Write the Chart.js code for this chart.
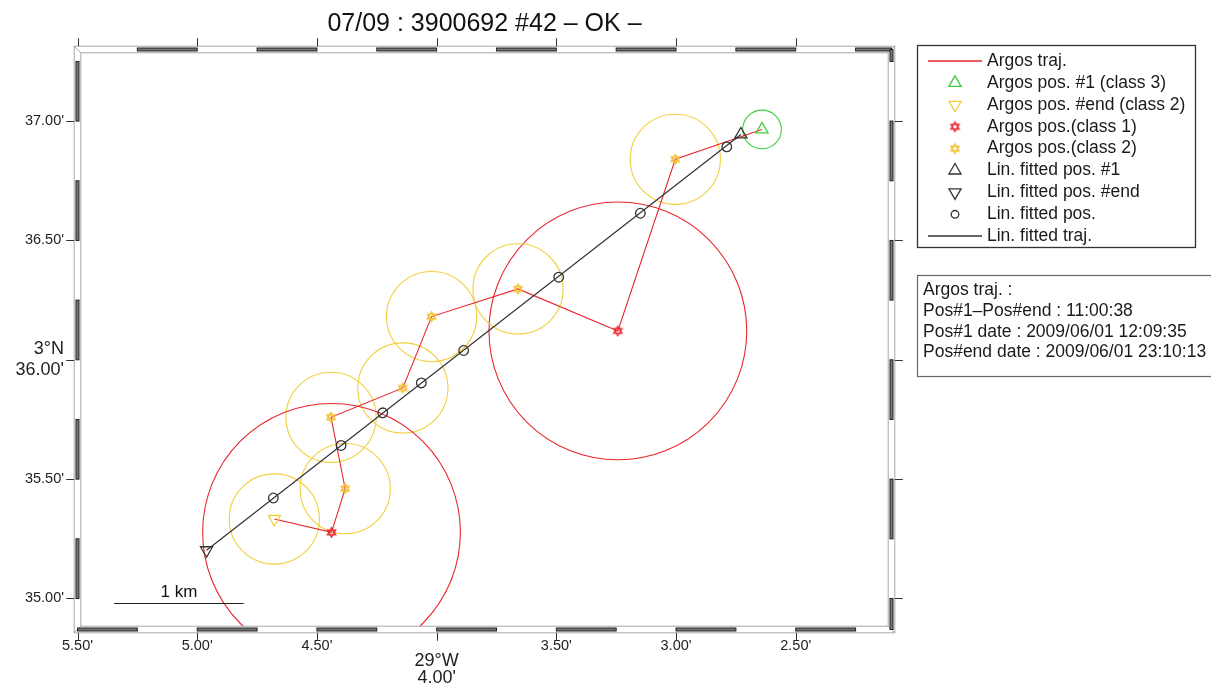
<!DOCTYPE html>
<html>
<head>
<meta charset="utf-8">
<script src="https://cdn.jsdelivr.net/npm/chart.js@4.4.1/dist/chart.umd.min.js"></script>
<style>
  html, body { margin: 0; padding: 0; background: #fff; }
  #wrap { width: 1211px; height: 684px; position: relative; }
</style>
</head>
<body>
<div id="wrap"><canvas id="trackChart"></canvas></div>
<script>
// Argos positions (minutes past 29°W / past 3°N), in time order
const argosLon = [2.641, 3.003, 3.243, 3.660, 4.021, 4.141, 4.441, 4.382, 4.439, 4.678];
const argosLat = [36.965, 36.840, 36.121, 36.297, 36.181, 35.882, 35.759, 35.460, 35.277, 35.333];
const argosClass = [3, 2, 1, 2, 2, 2, 2, 2, 1, 2];
// error radius in km for class 1, 2, 3
const classRadiusKm = [1.0, 0.35, 0.15];

// linearly fitted positions
const fitLon = [2.729, 2.788, 3.149, 3.490, 3.887, 4.064, 4.225, 4.399, 4.682, 4.961];
const fitLat = [36.944, 36.892, 36.614, 36.346, 36.039, 35.903, 35.778, 35.641, 35.421, 35.202];

const lonRange = [2.10, 5.50];
const latRange = [34.87, 37.30];
const lonTicks = [5.5, 5.0, 4.5, 4.0, 3.5, 3.0, 2.5];
const lonTickLabels = ["5.50'", "5.00'", "4.50'", ['', '29°W', "4.00'"], "3.50'", "3.00'", "2.50'"];
const latTicks = [35.0, 35.5, 36.0, 36.5, 37.0];
const latTickLabels = ["35.00'", "35.50'", ['3°N', "36.00'"], "36.50'", "37.00'"];

const scaleBar = { km: 1, lon: 5.347, lat: 34.983 };
const titleText = '07/09 : 3900692 #42 – OK –';
const infoLines = [
    'Argos traj. :',
    'Pos#1–Pos#end : 11:00:38',
    'Pos#1 date : 2009/06/01 12:09:35',
    'Pos#end date : 2009/06/01 23:10:13'
];

const FONT = '"Liberation Sans", Arial, Helvetica, sans-serif';
const RED = '#e8262c';
const YELLOW = '#f1d03e';
const STAR_YELLOW = '#f3bf2a';
const GREEN = '#3ccf3c';
const DARK = '#333333';
const classColor = [RED, YELLOW, GREEN];

const pts = (lons, lats) => lons.map((x, i) => ({ x: x, y: lats[i] }));
const pick = (arr, idx) => idx.map(i => arr[i]);

const last = argosLon.length - 1;
const midIdx = argosLon.map((v, i) => i).filter(i => i > 0 && i < last);
const class1Idx = midIdx.filter(i => argosClass[i] === 1);
const class2Idx = midIdx.filter(i => argosClass[i] === 2);

function kmToPx(chart, km) {
    const y = chart.scales.y;
    if (!y) return 0;
    const px = Math.abs(y.getPixelForValue(36) - y.getPixelForValue(36 + km / 1.852));
    return isFinite(px) ? px : 0;
}

// six-pointed star marker
function hexagram(color) {
    const c = document.createElement('canvas');
    c.width = 13; c.height = 13;
    const g = c.getContext('2d');
    g.strokeStyle = color;
    g.lineWidth = 1.3;
    [0, Math.PI].forEach(function(rot) {
        g.beginPath();
        for (let k = 0; k < 3; k++) {
            const a = rot + k * 2 * Math.PI / 3;
            const px = 6.5 + Math.sin(a) * 4.8, py = 6.5 - Math.cos(a) * 4.8;
            if (k) g.lineTo(px, py); else g.moveTo(px, py);
        }
        g.closePath();
        g.stroke();
    });
    return c;
}
const redStar = hexagram(RED);
const yellowStar = hexagram(STAR_YELLOW);

// GMT style fancy frame
const fancyFrame = {
    id: 'fancyFrame',
    afterDatasetsDraw(chart) {
        const { ctx, chartArea: a, scales: { x, y } } = chart;
        const b = 3.3;
        ctx.save();
        ctx.strokeStyle = '#fff';
        ctx.lineWidth = 2 * b;
        ctx.strokeRect(a.left, a.top, a.width, a.height);

        ctx.strokeStyle = '#a8a8a8';
        ctx.lineWidth = 1;
        ctx.strokeRect(a.left - b, a.top - b, a.width + 2 * b, a.height + 2 * b);
        ctx.strokeRect(a.left + b, a.top + b, a.width - 2 * b, a.height - 2 * b);
        ctx.beginPath();
        [[a.left, a.top, 1, 1], [a.right, a.top, -1, 1], [a.left, a.bottom, 1, -1], [a.right, a.bottom, -1, -1]].forEach(function(c) {
            ctx.moveTo(c[0] - c[2] * b, c[1] - c[3] * b);
            ctx.lineTo(c[0] + c[2] * b, c[1] + c[3] * b);
        });
        ctx.stroke();

        // alternating bars, every 0.25'
        ctx.strokeStyle = '#222';
        ctx.fillStyle = '#777';
        const bar = (x0, y0, w, h) => { ctx.fillRect(x0, y0, w, h); ctx.strokeRect(x0, y0, w, h); };
        const half = v => Math.abs(v * 2 - Math.round(v * 2)) < 1e-6;
        for (let s = 2.0; s < 5.5; s += 0.25) {
            const x1 = Math.max(Math.min(x.getPixelForValue(s), a.right), a.left);
            const x2 = Math.max(Math.min(x.getPixelForValue(s + 0.25), a.right), a.left);
            if (Math.abs(x1 - x2) < 1) continue;
            if (half(s)) bar(Math.min(x1, x2), a.top - 1.5, Math.abs(x1 - x2), 3);
            else bar(Math.min(x1, x2), a.bottom - 1.5, Math.abs(x1 - x2), 3);
        }
        for (let s = 34.75; s < 37.5; s += 0.25) {
            const y1 = Math.max(Math.min(y.getPixelForValue(s), a.bottom), a.top);
            const y2 = Math.max(Math.min(y.getPixelForValue(s + 0.25), a.bottom), a.top);
            if (Math.abs(y1 - y2) < 1) continue;
            if (half(s)) bar(a.left - 1.5, Math.min(y1, y2), 3, Math.abs(y1 - y2));
            else bar(a.right - 1.5, Math.min(y1, y2), 3, Math.abs(y1 - y2));
        }

        // outside tick marks
        ctx.strokeStyle = '#333';
        ctx.beginPath();
        lonTicks.forEach(function(v) {
            const px = Math.round(x.getPixelForValue(v)) + 0.5;
            ctx.moveTo(px, a.top - b); ctx.lineTo(px, a.top - b - 8);
            ctx.moveTo(px, a.bottom + b); ctx.lineTo(px, a.bottom + b + 8);
        });
        latTicks.forEach(function(v) {
            const py = Math.round(y.getPixelForValue(v)) + 0.5;
            ctx.moveTo(a.left - b, py); ctx.lineTo(a.left - b - 8, py);
            ctx.moveTo(a.right + b, py); ctx.lineTo(a.right + b + 8, py);
        });
        ctx.stroke();

        // scale bar
        const lonPerKm = 1 / (1.852 * Math.cos((3 + scaleBar.lat / 60) * Math.PI / 180));
        const sx1 = x.getPixelForValue(scaleBar.lon);
        const sx2 = x.getPixelForValue(scaleBar.lon - scaleBar.km * lonPerKm);
        const sy = Math.round(y.getPixelForValue(scaleBar.lat)) + 0.5;
        ctx.strokeStyle = '#222';
        ctx.lineWidth = 1.2;
        ctx.beginPath();
        ctx.moveTo(sx1, sy); ctx.lineTo(sx2, sy);
        ctx.stroke();
        ctx.fillStyle = '#111';
        ctx.font = '17px ' + FONT;
        ctx.textAlign = 'center';
        ctx.textBaseline = 'middle';
        ctx.fillText(scaleBar.km + ' km', (sx1 + sx2) / 2, sy - 11);
        ctx.restore();
    }
};

// legend box + info box on the right
const sideBoxes = {
    id: 'sideBoxes',
    afterDraw(chart) {
        const ctx = chart.ctx;
        ctx.save();
        ctx.strokeStyle = '#333';
        ctx.lineWidth = 1.3;
        ctx.strokeRect(917.5, 45.5, 278, 202);
        const rows = chart.data.datasets.map((d, i) => ({ d: d, meta: chart.getDatasetMeta(i) }))
            .filter(r => r.d.legendRow !== undefined)
            .sort((p, q) => p.d.legendRow - q.d.legendRow);
        ctx.font = '17.5px ' + FONT;
        ctx.textBaseline = 'middle';
        ctx.textAlign = 'left';
        rows.forEach(function(r, i) {
            const d = r.d;
            const ry = 61 + i * 21.9;
            if (d.showLine) {
                ctx.strokeStyle = r.meta.dataset.options.borderColor;
                ctx.lineWidth = 1.4;
                ctx.beginPath();
                ctx.moveTo(928, Math.round(ry));
                ctx.lineTo(982, Math.round(ry));
                ctx.stroke();
            } else {
                const o = r.meta.data[0].options;
                ctx.strokeStyle = o.borderColor;
                ctx.fillStyle = 'rgba(0,0,0,0)';
                ctx.lineWidth = o.borderWidth || 1;
                Chart.helpers.drawPoint(ctx, {
                    pointStyle: o.pointStyle,
                    rotation: o.rotation || 0,
                    radius: d.legendRadius || o.radius,
                    borderWidth: o.borderWidth || 1
                }, 955, ry);
            }
            ctx.fillStyle = '#1a1a1a';
            ctx.fillText(d.label, 987, ry);
        });

        ctx.strokeStyle = '#666';
        ctx.lineWidth = 1.2;
        ctx.strokeRect(917.5, 275.5, 320, 101);
        ctx.fillStyle = '#1a1a1a';
        infoLines.forEach(function(t, i) {
            ctx.fillText(t, 923, 290.5 + i * 20.7);
        });
        ctx.restore();
    }
};

const ctx = document.getElementById('trackChart').getContext('2d');
new Chart(ctx, {
    type: 'scatter',
    data: {
        datasets: [
            {
                label: 'Lin. fitted pos. #1', legendRow: 5,
                data: pts(fitLon.slice(0, 1), fitLat.slice(0, 1)),
                pointStyle: 'triangle', pointRadius: 7,
                pointBorderColor: DARK, pointBackgroundColor: 'rgba(0,0,0,0)', pointBorderWidth: 1.3
            },
            {
                label: 'Lin. fitted pos. #end', legendRow: 6,
                data: pts(fitLon.slice(-1), fitLat.slice(-1)),
                pointStyle: 'triangle', pointRotation: 180, pointRadius: 7,
                pointBorderColor: DARK, pointBackgroundColor: 'rgba(0,0,0,0)', pointBorderWidth: 1.3
            },
            {
                label: 'Lin. fitted pos.', legendRow: 7,
                data: pts(fitLon.slice(1, -1), fitLat.slice(1, -1)),
                pointStyle: 'circle', pointRadius: 4.8, legendRadius: 3.8,
                pointBorderColor: DARK, pointBackgroundColor: 'rgba(0,0,0,0)', pointBorderWidth: 1.3
            },
            {
                label: 'Argos pos. #1 (class 3)', legendRow: 1,
                data: pts(argosLon.slice(0, 1), argosLat.slice(0, 1)),
                pointStyle: 'triangle', pointRadius: 7,
                pointBorderColor: GREEN, pointBackgroundColor: 'rgba(0,0,0,0)', pointBorderWidth: 1.3
            },
            {
                label: 'Argos pos. #end (class 2)', legendRow: 2,
                data: pts(argosLon.slice(-1), argosLat.slice(-1)),
                pointStyle: 'triangle', pointRotation: 180, pointRadius: 7,
                pointBorderColor: YELLOW, pointBackgroundColor: 'rgba(0,0,0,0)', pointBorderWidth: 1.3
            },
            {
                label: 'Argos pos.(class 1)', legendRow: 3,
                data: pts(pick(argosLon, class1Idx), pick(argosLat, class1Idx)),
                pointStyle: redStar, pointRadius: 5,
                pointBorderColor: RED
            },
            {
                label: 'Argos pos.(class 2)', legendRow: 4,
                data: pts(pick(argosLon, class2Idx), pick(argosLat, class2Idx)),
                pointStyle: yellowStar, pointRadius: 5,
                pointBorderColor: STAR_YELLOW
            },
            {
                label: 'Lin. fitted traj.', legendRow: 8,
                data: pts([fitLon[0], fitLon[last]], [fitLat[0], fitLat[last]]),
                showLine: true, borderColor: DARK, borderWidth: 1.2, pointRadius: 0
            },
            {
                label: 'Argos traj.', legendRow: 0,
                data: pts(argosLon, argosLat),
                showLine: true, borderColor: RED, borderWidth: 1.1, pointRadius: 0
            },
            {
                label: 'error circles',
                data: pts(argosLon, argosLat),
                pointStyle: 'circle',
                pointBackgroundColor: 'rgba(0,0,0,0)',
                pointBorderColor: c => c.dataIndex === undefined ? RED : classColor[argosClass[c.dataIndex] - 1],
                pointBorderWidth: 1.1,
                pointRadius: c => c.dataIndex === undefined ? 0 : kmToPx(c.chart, classRadiusKm[argosClass[c.dataIndex] - 1])
            }
        ].map(d => Object.assign({ clip: -3 }, d))
    },
    options: {
        responsive: true,
        maintainAspectRatio: false,
        animation: false,
        events: [],
        layout: { padding: { left: 0, right: 319.5, top: 0, bottom: 0 } },
        plugins: {
            legend: { display: false },
            tooltip: { enabled: false },
            title: {
                display: true,
                text: titleText,
                fullSize: false,
                color: '#111',
                font: { family: FONT, size: 25, weight: 'normal', lineHeight: 1.2 },
                padding: { top: 9, bottom: 10.5 }
            }
        },
        scales: {
            x: {
                type: 'linear',
                reverse: true,
                min: lonRange[0],
                max: lonRange[1],
                grid: { display: false, drawTicks: false },
                border: { display: false },
                afterBuildTicks: s => { s.ticks = lonTicks.map(v => ({ value: v })); },
                afterFit: s => { s.height = 54.5; },
                ticks: {
                    autoSkip: false,
                    maxRotation: 0,
                    padding: 8,
                    color: '#222',
                    font: c => (c.tick && c.tick.value === 4)
                        ? { family: FONT, size: 18, lineHeight: 0.89 }
                        : { family: FONT, size: 14.5, lineHeight: 1.15 },
                    callback: (value, index) => lonTickLabels[index]
                }
            },
            y: {
                type: 'linear',
                min: latRange[0],
                max: latRange[1],
                grid: { display: false, drawTicks: false },
                border: { display: false },
                afterBuildTicks: s => { s.ticks = latTicks.map(v => ({ value: v })); },
                afterFit: s => { s.width = 77.5; },
                ticks: {
                    autoSkip: false,
                    padding: 13.5,
                    color: '#222',
                    font: c => (c.tick && c.tick.value === 36)
                        ? { family: FONT, size: 18, lineHeight: 1.17 }
                        : { family: FONT, size: 14.5, lineHeight: 1.15 },
                    callback: (value, index) => latTickLabels[index]
                }
            }
        }
    },
    plugins: [fancyFrame, sideBoxes]
});
</script>
</body>
</html>
